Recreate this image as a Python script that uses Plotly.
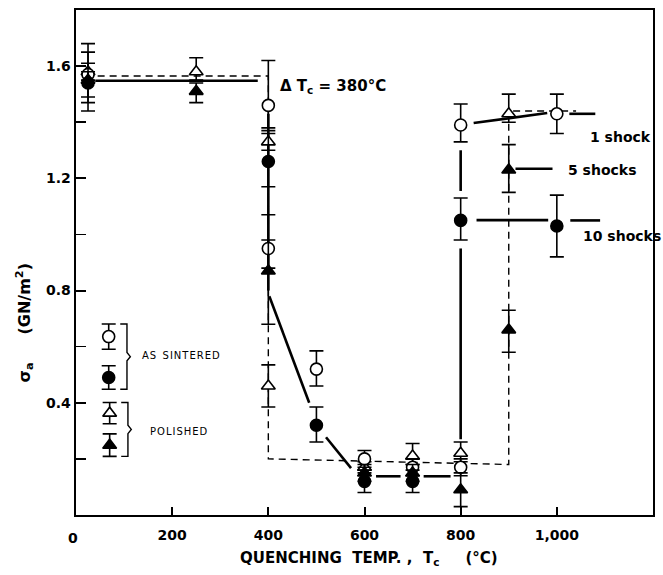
import plotly.graph_objects as go

# ---------------- data ----------------
# open circles: as sintered, 1 shock
oc_x = [25, 400, 400, 500, 600, 700, 800, 800, 1000]
oc_y = [1.57, 1.46, 0.95, 0.52, 0.20, 0.17, 0.17, 1.39, 1.43]
oc_up = [0.11, 0.16, 0.12, 0.065, 0.03, 0.03, 0.03, 0.075, 0.07]
oc_dn = [0.13, 0.08, 0.07, 0.06, 0.03, 0.03, 0.03, 0.06, 0.07]

# filled circles: as sintered, 10 shocks
fc_x = [25, 400, 500, 600, 700, 800, 1000]
fc_y = [1.54, 1.26, 0.32, 0.12, 0.12, 1.05, 1.03]
fc_up = [0.11, 0.10, 0.065, 0.04, 0.04, 0.08, 0.11]
fc_dn = [0.07, 0.09, 0.06, 0.04, 0.04, 0.07, 0.11]

# open triangles: polished, 1 shock
ot_x = [25, 250, 400, 400, 600, 700, 800, 900]
ot_y = [1.58, 1.58, 1.33, 0.46, 0.17, 0.21, 0.22, 1.43]
ot_up = [0.03, 0.05, 0.04, 0.075, 0.02, 0.045, 0.04, 0.07]
ot_dn = [0.03, 0.03, 0.03, 0.075, 0.02, 0.03, 0.03, 0.03]

# filled triangles: polished, 5/10 shocks
ft_x = [25, 250, 400, 600, 700, 800, 900, 900]
ft_y = [1.55, 1.51, 0.87, 0.15, 0.15, 0.09, 1.23, 0.66]
ft_up = [0.03, 0.03, 0.11, 0.03, 0.03, 0.06, 0.09, 0.07]
ft_dn = [0.06, 0.04, 0.19, 0.03, 0.03, 0.06, 0.08, 0.08]

# guide curves (solid: as sintered, dashed: polished)
solid_x = [40, 378, None, 400, 400, None, 402, 485, None, 520, 572, None,
           624, 675, None, 723, 779, None, 800, 800, None, 800, 800, None,
           833, 982, None, 1028, 1090, None, 827, 980, None, 1026, 1080, None,
           914, 991]
solid_y = [1.548, 1.548, None, 1.43, 0.80, None, 0.78, 0.40, None, 0.277, 0.167, None,
           0.138, 0.138, None, 0.138, 0.138, None, 0.27, 0.95, None, 1.155, 1.30, None,
           1.051, 1.051, None, 1.05, 1.05, None, 1.397, 1.433, None, 1.43, 1.43, None,
           1.234, 1.234]
dash_x = [45, 400, 400, 900, 900, 1000, 1040]
dash_y = [1.565, 1.565, 0.20, 0.18, 1.44, 1.44, 1.44]

# legend key
key_x = [68, 68, 70, 70]
key_y = [0.636, 0.49, 0.363, 0.249]
key_err = [0.045, 0.042, 0.038, 0.040]

x_ticks = [200, 400, 600, 800, 1000]
x_ticktext = ["200", "400", "600", "800", "1,000"]
y_ticks = [0.4, 0.8, 1.2, 1.6]
y_ticktext = ["0.4", "0.8", "1.2", "1.6"]

# ---------------- figure ----------------
fig = go.Figure()
BLACK = "black"

fig.add_trace(go.Scatter(x=solid_x, y=solid_y, mode="lines",
                         line=dict(color=BLACK, width=2.6), hoverinfo="skip"))
fig.add_trace(go.Scatter(x=dash_x, y=dash_y, mode="lines",
                         line=dict(color=BLACK, width=1.4, dash="7px,5px"), hoverinfo="skip"))


def pts(x, y, up, dn, symbol, fill):
    return go.Scatter(
        x=x, y=y, mode="markers",
        marker=dict(symbol=symbol, size=12, color=fill,
                    line=dict(color=BLACK, width=1.6)),
        error_y=dict(type="data", array=up, arrayminus=dn, symmetric=False,
                     color=BLACK, thickness=1.6, width=7),
        hoverinfo="skip")


fig.add_trace(pts(ot_x, ot_y, ot_up, ot_dn, "triangle-up", "white"))
fig.add_trace(pts(oc_x, oc_y, oc_up, oc_dn, "circle", "white"))
fig.add_trace(pts(ft_x, ft_y, ft_up, ft_dn, "triangle-up", BLACK))
fig.add_trace(pts(fc_x, fc_y, fc_up, fc_dn, "circle", BLACK))

# legend key markers
key_sym = ["circle", "circle", "triangle-up", "triangle-up"]
key_fill = ["white", BLACK, "white", BLACK]
for i in range(4):
    fig.add_trace(pts([key_x[i]], [key_y[i]], [key_err[i]], [key_err[i]],
                      key_sym[i], key_fill[i]))

# brackets built from the key positions
for a, b in [(0, 1), (2, 3)]:
    top = key_y[a] + key_err[a]
    bot = key_y[b] - key_err[b]
    mid = (top + bot) / 2
    xl, xv, xt = key_x[a] + 24, key_x[a] + 38, key_x[a] + 45
    fig.add_trace(go.Scatter(
        x=[xl, xv, xv, xt, xv, xv, xl],
        y=[top, top, mid + 0.015, mid, mid - 0.015, bot, bot],
        mode="lines", line=dict(color=BLACK, width=1.4), hoverinfo="skip"))

BOLD = dict(family="DejaVu Sans", size=14, color=BLACK, weight="bold")
SMALL = dict(family="DejaVu Sans", size=10, color=BLACK)
HS = "\u200a"  # hair space for letter spacing


def spaced(s):
    return HS.join(s)


annos = [
    dict(x=421, y=1.527, text="Δ T<sub>c</sub> = 380°C", xanchor="left",
         font=dict(BOLD, size=15)),
    dict(x=1065, y=1.349, text="1 shock", xanchor="left", font=BOLD),
    dict(x=1020, y=1.228, text="5 shocks", xanchor="left", font=BOLD),
    dict(x=1051, y=0.994, text="10 shocks", xanchor="left", font=BOLD),
    dict(x=key_x[0] + 65, y=(key_y[0] + key_y[1]) / 2 + 0.005,
         text=spaced("AS") + "  " + spaced("SINTERED"), xanchor="left", font=SMALL),
    dict(x=key_x[2] + 79, y=(key_y[2] + key_y[3]) / 2 - 0.007,
         text=spaced("POLISHED"), xanchor="left", font=SMALL),
]
for a in annos:
    fig.add_annotation(xref="x", yref="y", showarrow=False, yanchor="middle", **a)

# "0" tick label, axis titles
fig.add_annotation(xref="paper", yref="paper", x=-0.017, y=-0.025, text="0",
                   showarrow=False, yanchor="top", font=BOLD)
fig.add_annotation(xref="paper", yref="paper", x=0.508, y=-0.064, yanchor="top",
                   text="QUENCHING  TEMP. ,  T<sub>c</sub>     (°C)",
                   showarrow=False, font=dict(family="DejaVu Sans", size=15,
                                               color=BLACK, weight="bold"))
fig.add_annotation(xref="paper", yref="paper", x=-0.113, y=0.38, textangle=-90,
                   text="σ<sub>a</sub>     (GN/m<sup>2</sup>)", showarrow=False,
                   font=dict(family="DejaVu Sans", size=16, color=BLACK, weight="bold"))

fig.update_layout(
    width=663, height=575,
    margin=dict(l=76, r=8, t=8, b=60),
    plot_bgcolor="white", paper_bgcolor="white",
    showlegend=False,
    xaxis=dict(range=[0, 1200], showgrid=False, zeroline=False,
               showline=True, linecolor=BLACK, linewidth=2.4, mirror=True,
               ticks="inside", ticklen=8, tickwidth=2, tickcolor=BLACK,
               tickvals=x_ticks, ticktext=x_ticktext, tickfont=BOLD,
               ticklabelstandoff=6),
    yaxis=dict(range=[0, 1.8], showgrid=False, zeroline=False,
               showline=True, linecolor=BLACK, linewidth=2.4, mirror=True,
               ticks="inside", ticklen=10, tickwidth=2, tickcolor=BLACK,
               tickvals=y_ticks, ticktext=y_ticktext, tickfont=BOLD,
               minor=dict(tickvals=[0.2, 0.6, 1.0, 1.4], ticks="inside",
                          ticklen=10, tickwidth=1.5, tickcolor=BLACK)),
)

fig.write_html("out.html",
               config={"displayModeBar": False, "staticPlot": True},
               post_script="document.body.style.margin='0';"
                           "document.body.style.overflow='hidden';")
